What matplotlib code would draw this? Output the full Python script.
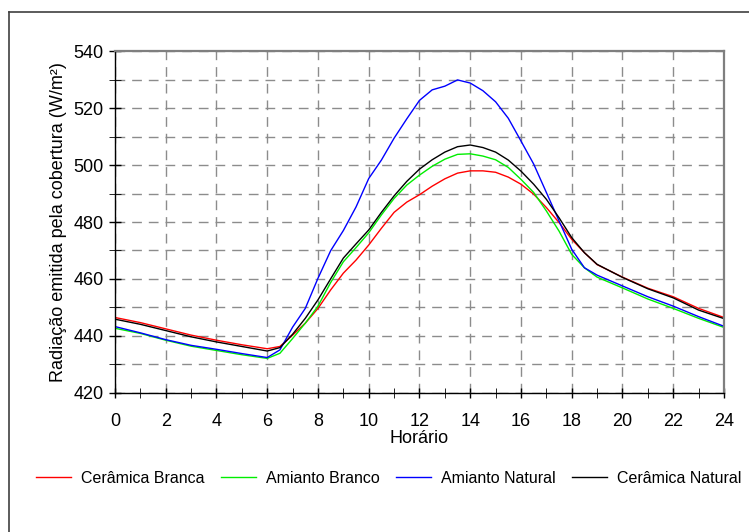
import matplotlib
matplotlib.use('Agg')
import matplotlib.pyplot as plt
from matplotlib.lines import Line2D
from matplotlib.ticker import MultipleLocator

plt.rcParams['font.family'] = ['Liberation Sans', 'DejaVu Sans']

horas = [0, 1, 2, 3, 4, 5, 6, 6.5, 7, 7.5, 8, 8.5, 9, 9.5, 10, 10.5, 11, 11.5,
         12, 12.5, 13, 13.5, 14, 14.5, 15, 15.5, 16, 16.5, 17, 17.5, 18, 18.5,
         19, 20, 21, 22, 23, 24]

ceramica_branca = [446.4, 444.6, 442.4, 440.2, 438.4, 436.8, 435.4, 436.2, 440.2, 444.4,
                   449.6, 456.1, 462.0, 466.6, 471.9, 477.8, 483.4, 487.0, 489.6, 492.6,
                   495.2, 497.2, 498.0, 498.0, 497.5, 495.8, 493.3, 489.8, 485.1, 479.8,
                   473.9, 469.2, 465.0, 460.6, 456.7, 453.7, 449.6, 446.4]

amianto_branco = [442.6, 440.8, 438.4, 436.3, 434.8, 433.3, 432.0, 433.8, 439.0, 444.4,
                  450.4, 458.7, 466.0, 471.0, 476.2, 482.5, 488.3, 493.0, 496.5, 499.6,
                  502.1, 503.8, 504.0, 503.2, 501.9, 499.2, 495.0, 490.4, 483.9, 476.8,
                  468.6, 463.9, 460.6, 456.8, 452.9, 449.6, 446.1, 442.9]

amianto_natural = [443.2, 441.0, 438.6, 436.6, 435.2, 433.7, 432.3, 435.0, 443.0, 449.6,
                   460.2, 469.9, 477.0, 485.3, 495.3, 501.8, 509.5, 516.3, 522.8, 526.5,
                   527.8, 530.0, 528.9, 526.2, 522.3, 516.5, 508.5, 500.4, 490.4, 480.4,
                   470.4, 463.9, 461.3, 457.5, 453.7, 450.4, 446.7, 443.3]

ceramica_natural = [445.8, 444.0, 441.8, 439.6, 437.8, 436.2, 434.6, 435.8, 440.5, 446.1,
                    452.6, 460.0, 467.3, 472.3, 477.2, 483.4, 489.2, 494.3, 498.6, 501.9,
                    504.6, 506.5, 507.1, 506.2, 504.6, 501.8, 497.9, 493.3, 488.0, 481.5,
                    474.5, 469.2, 465.1, 460.5, 456.5, 453.3, 449.0, 446.0]

fig = plt.figure(figsize=(7.49, 5.32), dpi=100)
ax = fig.add_axes([0.1535, 0.2622, 0.8131, 0.641])

ax.plot(horas, ceramica_branca, color='#ff0000', lw=1, label='Cerâmica Branca')
ax.plot(horas, amianto_branco, color='#00ee00', lw=1, label='Amianto Branco')
ax.plot(horas, amianto_natural, color='#0000ff', lw=1, label='Amianto Natural')
ax.plot(horas, ceramica_natural, color='#000000', lw=1, label='Cerâmica Natural')

ax.set_xlim(0, 24)
ax.set_ylim(420, 540)
ax.xaxis.set_major_locator(MultipleLocator(2))
ax.xaxis.set_minor_locator(MultipleLocator(1))
ax.yaxis.set_major_locator(MultipleLocator(20))
ax.yaxis.set_minor_locator(MultipleLocator(10))

ax.grid(True, which='major', axis='x', color='#8c8c8c', ls=(0, (7, 5)), lw=1)
ax.grid(True, which='both', axis='y', color='#8c8c8c', ls=(0, (7, 5)), lw=1)
ax.set_axisbelow(True)

ax.tick_params(axis='both', which='major', labelsize=13, width=1)
ax.tick_params(axis='y', which='major', length=8, direction='inout', pad=4)
ax.tick_params(axis='y', which='minor', length=8, direction='inout')
ax.tick_params(axis='x', which='major', length=7, direction='inout', pad=11)
ax.tick_params(axis='x', which='minor', length=7, direction='inout')

for s in ['top', 'right']:
    ax.spines[s].set_color('#7f7f7f')
    ax.spines[s].set_linewidth(1.6)
for s in ['left', 'bottom']:
    ax.spines[s].set_color('black')
    ax.spines[s].set_linewidth(1)

ax.set_xlabel('Horário', fontsize=13, labelpad=0)
ax.set_ylabel('Radiação emitida pela cobertura (W/m²)', fontsize=13, labelpad=5)

fig.legend(loc='center', bbox_to_anchor=(0.519, 0.1015), ncol=4, frameon=False,
           fontsize=11.5, handlelength=2.2, columnspacing=1.05, handletextpad=0.6)

# moldura externa (apenas topo e esquerda visiveis)
fig.add_artist(Line2D([9 / 749, 9 / 749], [0, 1 - 12 / 532], color='#404040', lw=1.2,
                      transform=fig.transFigure))
fig.add_artist(Line2D([9 / 749, 1], [1 - 12 / 532, 1 - 12 / 532], color='#404040', lw=1.2,
                      transform=fig.transFigure))

fig.savefig('out.png', dpi=100)
